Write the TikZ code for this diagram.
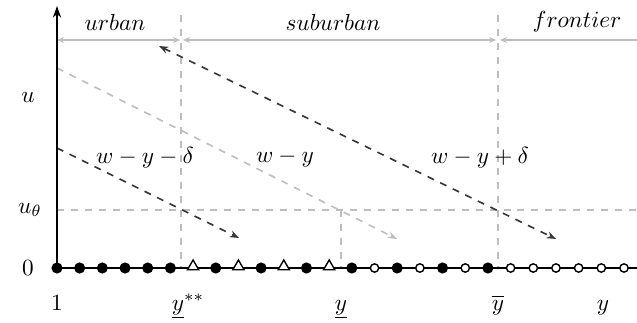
\documentclass[tikz,border=0pt]{standalone}
\usetikzlibrary{arrows.meta,shapes.geometric}
\definecolor{lgray}{RGB}{190,190,190}
\definecolor{dgray}{RGB}{55,55,55}
\tikzset{
  axisline/.style={line width=0.8pt},
  guide/.style={lgray,dashed,line width=0.6pt},
  gline/.style={lgray,dashed,line width=0.7pt,-{Stealth[length=4pt,width=3pt]}},
  dline/.style={dgray,dashed,line width=0.7pt,-{Stealth[length=4pt,width=3pt]}},
  dboth/.style={dgray,dashed,line width=0.7pt,{Stealth[length=4pt,width=3pt]}-{Stealth[length=4pt,width=3pt]}},
  zone/.style={lgray,line width=0.6pt},
  zboth/.style={zone,{Stealth[length=3pt,width=2.6pt]}-{Stealth[length=3pt,width=2.6pt]}},
  zleft/.style={zone,{Stealth[length=3pt,width=2.6pt]}-},
  fdot/.style={circle,fill=black,inner sep=0pt,minimum size=4.8pt},
  odot/.style={circle,draw=black,fill=white,line width=0.6pt,inner sep=0pt,minimum size=3.6pt},
  tri/.style={regular polygon,regular polygon sides=3,draw=black,fill=white,line width=0.6pt,inner sep=0pt,minimum size=5.6pt},
  lab/.style={inner sep=1pt}
}
\begin{document}
\begin{tikzpicture}[x=0.43pt,y=-0.43pt]
\useasboundingbox (0,0) rectangle (637,322);
% coordinates
\coordinate (O) at (57,268);
\coordinate (Ytop) at (57,6);
\coordinate (Xend) at (637,268);
\coordinate (a1) at (181,15); \coordinate (a2) at (181,268);
\coordinate (b1) at (498,15); \coordinate (b2) at (498,268);
\coordinate (c1) at (341,210); \coordinate (c2) at (341,268);
\coordinate (t1) at (57,210); \coordinate (t2) at (637,210);
% guides
\draw[guide] (a1) -- (a2);
\draw[guide] (b1) -- (b2);
\draw[guide] (c1) -- (c2);
\draw[guide] (t1) -- (t2);
% zone arrows
\coordinate (z0) at (57,40); \coordinate (z1) at (180,40);
\coordinate (z2) at (183,40); \coordinate (z3) at (496,40);
\coordinate (z4) at (500,40); \coordinate (z5) at (637,40);
\draw[zboth] (z0) -- (z1);
\draw[zboth] (z2) -- (z3);
\draw[zleft] (z4) -- (z5);
\node[lab] (urban) at (115,22) {$urban$};
\node[lab] (suburban) at (333,22) {$suburban$};
\node[lab] (frontier) at (577,22) {$frontier$};
% utility lines
\coordinate (g0) at (57,68); \coordinate (g1) at (397,239);
\coordinate (d0) at (57,148); \coordinate (d1) at (239,238);
\coordinate (e0) at (159,46); \coordinate (e1) at (556,239);
\draw[gline] (g0) -- (g1);
\draw[dline] (d0) -- (d1);
\draw[dboth] (e0) -- (e1);
\node[lab] (L1) at (145,158) {$w-y-\delta$};
\node[lab] (L2) at (285,158) {$w-y$};
\node[lab] (L3) at (480,158) {$w-y+\delta$};
% axes
\draw[axisline,-{Stealth[length=5pt,width=3.5pt]}] (O) -- (Ytop);
\draw[axisline] (O) -- (Xend);
% left labels
\node[lab] (lu) at (28,97) {$u$};
\node[lab] (lut) at (30,210) {$u_\theta$};
\node[lab] (l0) at (28,268) {$0$};
% bottom labels
\node[lab,anchor=base] (b1l) at (57,310) {$1$};
\node[lab,anchor=base] (bys) at (188,310) {$\underline{y}^{**}$};
\node[lab,anchor=base] (byu) at (341,310) {$\underline{y}$};
\node[lab,anchor=base] (byb) at (498,310) {$\overline{y}$};
\node[lab,anchor=base] (by) at (603,310) {$y$};
% markers
\foreach \i/\t in {0/f,1/f,2/f,3/f,4/f,5/f,6/t,7/f,8/t,9/f,10/t,11/f,12/t,13/f,14/o,15/f,16/o,17/f,18/o,19/f,20/o,21/o,22/o,23/o,24/o,25/o}{
  \pgfmathsetmacro{\xx}{57+22.68*\i}
  \if\t f\node[fdot] (m\i) at (\xx,268) {};\fi
  \if\t o\node[odot] (m\i) at (\xx,268) {};\fi
  \if\t t\node[tri] (m\i) at (\xx,266.5) {};\fi
}
\end{tikzpicture}
\end{document}
